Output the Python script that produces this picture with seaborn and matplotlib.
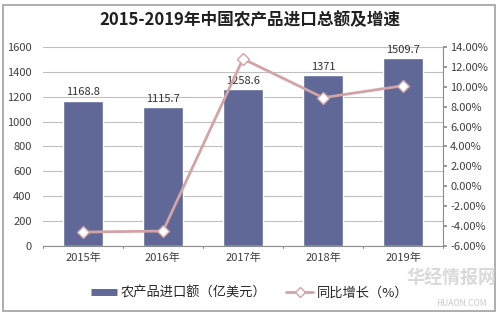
import matplotlib
matplotlib.use("Agg")
import matplotlib.pyplot as plt
import seaborn as sns
import pandas as pd
import numpy as np
from matplotlib.lines import Line2D
from matplotlib.patches import Rectangle

years = ["2015年", "2016年", "2017年", "2018年", "2019年"]
imports = [1168.8, 1115.7, 1258.6, 1371, 1509.7]
import_labels = ["1168.8", "1115.7", "1258.6", "1371", "1509.7"]
growth = [-4.6, -4.5, 12.8, 8.9, 10.1]

sns.set_theme(style="white")
plt.rcParams['font.family'] = ['Noto Sans CJK SC', 'DejaVu Sans']

bar_color = "#5F6897"
line_color = "#D3A3A6"

df = pd.DataFrame({"year": years, "imports": imports, "growth": growth})

fig = plt.figure(figsize=(4.99, 3.14), dpi=100)
ax = fig.add_axes([0.086, 0.2166, 0.802, 0.634])

sns.barplot(data=df, x="year", y="imports", color=bar_color, width=0.5,
            saturation=1, ax=ax)
ax.set_ylim(0, 1600)
ax.set_yticks(np.arange(0, 1601, 200))
ax.yaxis.grid(True, color="#BFBFBF", linewidth=0.8)
ax.set_axisbelow(True)
ax.set_xlabel("")
ax.set_ylabel("")
ax.set_xlim(-0.5, 4.5)
for s in ["top", "right", "left"]:
    ax.spines[s].set_visible(False)
ax.spines["bottom"].set_color("#8C8C8C")
ax.spines["bottom"].set_linewidth(0.8)
ax.tick_params(axis="y", labelsize=8, colors="#404040", length=0, pad=8)
ax.tick_params(axis="x", labelsize=8, colors="#404040", length=0, pad=5)
for i, (v, lab) in enumerate(zip(imports, import_labels)):
    ax.text(i, v + 25, lab, ha="center", va="bottom", fontsize=8, color="#303030")
for b in np.arange(-0.5, 4.6, 1):
    ax.plot([b, b], [0, -20], color="#8C8C8C", lw=0.8, clip_on=False)

ax2 = ax.twinx()
sns.lineplot(data=df, x="year", y="growth", color=line_color, linewidth=2,
             marker="D", markersize=6, markerfacecolor="white",
             markeredgecolor=line_color, markeredgewidth=1, ax=ax2, sort=False)
ax2.set_ylim(-6, 14)
ax2.set_yticks(np.arange(-6, 14.1, 2))
ax2.set_yticklabels([f"{v:.2f}%" for v in np.arange(-6, 14.1, 2)])
ax2.set_ylabel("")
ax2.set_xlim(-0.5, 4.5)
for s in ["top", "left", "bottom"]:
    ax2.spines[s].set_visible(False)
ax2.spines["right"].set_color("#8C8C8C")
ax2.spines["right"].set_linewidth(0.8)
ax2.tick_params(axis="y", labelsize=8, colors="#404040", length=3, direction="out",
                color="#8C8C8C", pad=2)

fig.text(0.5, 0.935, "2015-2019年中国农产品进口总额及增速", ha="center", va="center",
         fontsize=12, fontweight="bold", color="#202020")

handles = [Line2D([0], [0], color=bar_color, lw=5, solid_capstyle="butt"),
           Line2D([0], [0], color=line_color, lw=2, marker="D", markersize=5,
                  markerfacecolor="white", markeredgecolor=line_color)]
fig.legend(handles, ["农产品进口额（亿美元）", "同比增长（%）"], loc="center",
           bbox_to_anchor=(0.5, 0.067), ncol=2, frameon=False, fontsize=9.5,
           handlelength=2.0, columnspacing=1.5, handletextpad=0.3)

fig.text(0.995, 0.115, "华经情报网", ha="right", va="center", fontsize=13,
         color="#D0D0D0", fontweight="bold", alpha=0.8)
fig.text(0.975, 0.035, "HUAON.COM", ha="right", va="center", fontsize=6,
         color="#C8C8C8")

fig.add_artist(Rectangle((0.006, 0.01), 0.985, 0.975, transform=fig.transFigure,
                         fill=False, edgecolor="#A0A0A0", linewidth=1.2))

fig.savefig("out.png", dpi=100)
